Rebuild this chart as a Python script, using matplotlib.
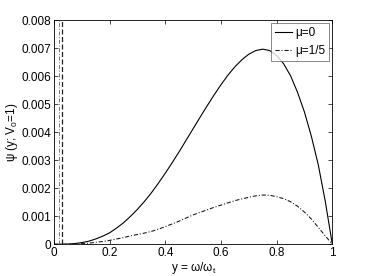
import numpy as np
import matplotlib
matplotlib.use("Agg")
import matplotlib.pyplot as plt

plt.rcParams['font.family'] = ['Liberation Sans', 'DejaVu Sans']
plt.rcParams['mathtext.fontset'] = 'custom'
plt.rcParams['mathtext.rm'] = 'Liberation Sans'
plt.rcParams['mathtext.default'] = 'regular'

# valeurs (pas de 0.025)
y_grid = [0, 0.025, 0.05, 0.075, 0.1, 0.125, 0.15, 0.175, 0.2, 0.225, 0.25,
          0.275, 0.3, 0.325, 0.35, 0.375, 0.4, 0.425, 0.45, 0.475, 0.5,
          0.525, 0.55, 0.575, 0.6, 0.625, 0.65, 0.675, 0.7, 0.725, 0.75,
          0.775, 0.8, 0.825, 0.85, 0.875, 0.9, 0.925, 0.95, 0.975, 1.0]
psi_mu0 = [0, 0.000001, 0.000008, 0.000026, 0.00006, 0.00011, 0.00019, 0.00029,
           0.00041, 0.00058, 0.00077, 0.001, 0.00125, 0.00153, 0.00184, 0.00218,
           0.00254, 0.00292, 0.00331, 0.00372, 0.00413, 0.00454, 0.00494, 0.00533,
           0.0057, 0.00604, 0.00634, 0.00659, 0.00679, 0.00692, 0.00697, 0.00692,
           0.00674, 0.00645, 0.00602, 0.00543, 0.00472, 0.00385, 0.00282, 0.00152, 0]
psi_mu15 = [0, 0.0000005, 0.000003, 0.00001, 0.00002, 0.00004, 0.00007, 0.0001,
            0.00014, 0.00019, 0.00024, 0.0003, 0.00035, 0.0004, 0.00046, 0.00054,
            0.00063, 0.00073, 0.00083, 0.00094, 0.00105, 0.00114, 0.00123, 0.00132,
            0.0014, 0.00148, 0.00156, 0.00162, 0.00168, 0.00173, 0.00176, 0.00175,
            0.0017, 0.00163, 0.00152, 0.00136, 0.00115, 0.0009, 0.0006, 0.0003, 0]

# courbes quasi verticales pres de y=0
spike_dash_x = [0.030, 0.030]
spike_dash_y = [0, 0.008]
spike_dd_x = [0.019, 0.019]
spike_dd_y = [0, 0.008]

fig = plt.figure(figsize=(3.68, 2.76), dpi=100)
ax = fig.add_axes([0.1467, 0.1149, 0.7563, 0.8115])

ax.plot(y_grid, psi_mu0, color='black', lw=0.8, label='μ=0')
ax.plot(y_grid, psi_mu15, color='#111111', lw=0.75, linestyle=(0, (4, 1.8, 1, 1.8)), label='μ=1/5')
ax.plot(spike_dash_x, spike_dash_y, color='#222222', lw=0.9, linestyle=(0, (4, 2)))
ax.plot(spike_dd_x, spike_dd_y, color='#777777', lw=0.7, linestyle=(0, (4, 1.8, 1, 1.8)))

ax.set_xlim(0, 1)
ax.set_ylim(0, 0.008)
ax.set_xticks([0, 0.2, 0.4, 0.6, 0.8, 1])
ax.set_xticklabels(['0', '0.2', '0.4', '0.6', '0.8', '1'])
ax.set_yticks([0, 0.001, 0.002, 0.003, 0.004, 0.005, 0.006, 0.007, 0.008])
ax.set_yticklabels(['0', '0.001', '0.002', '0.003', '0.004', '0.005', '0.006', '0.007', '0.008'])
ax.tick_params(direction='in', top=True, right=True, length=3, width=0.5, labelsize=8.5, pad=2)
for s in ax.spines.values():
    s.set_linewidth(0.6)

ax.set_xlabel('y = ω/ω$_t$', fontsize=8.5, labelpad=1)
ax.set_ylabel('ψ (y; V$_0$=1)', fontsize=8.5, labelpad=1)

leg = ax.legend(loc='upper right', fontsize=8.5, frameon=True, fancybox=False,
                handlelength=1.4, handletextpad=0.3, borderpad=0.35, labelspacing=0.45,
                borderaxespad=0.25)
leg.get_frame().set_edgecolor('#555555')
leg.get_frame().set_linewidth(0.6)

fig.savefig('out.png', dpi=100)
